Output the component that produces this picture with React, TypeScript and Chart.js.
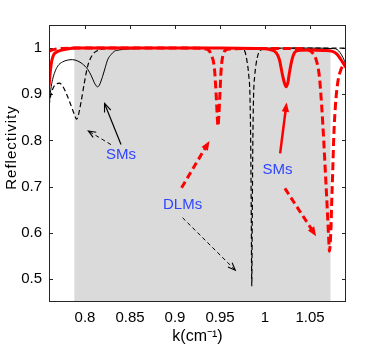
import { useEffect, useRef } from "react";
import { Chart, registerables } from "chart.js";

Chart.register(...registerables);

const FONT = "'Liberation Sans', Arial, Helvetica, sans-serif";

const X_RANGE = [0.76, 1.09];
const Y_RANGE = [0.45, 1.05];
const X_TICKS = [0.8, 0.85, 0.9, 0.95, 1, 1.05];
const Y_TICKS = [0.5, 0.6, 0.7, 0.8, 0.9, 1];

const BAND_X = [0.788, 1.073];
const BAND_TOP = 1.0;

// black solid
const BS_X = [0.76, 0.7605, 0.762, 0.764, 0.7665, 0.7697, 0.775, 0.7808, 0.786, 0.7919, 0.797, 0.803, 0.807, 0.8104, 0.8125, 0.814, 0.816, 0.8196, 0.8225, 0.8252, 0.829, 0.8326, 0.838, 0.8473, 0.86, 0.88, 0.95, 1.0, 1.05, 1.075, 1.08, 1.0835, 1.0865, 1.09];
const BS_Y = [0.855, 0.88, 0.91, 0.932, 0.948, 0.961, 0.97, 0.974, 0.975, 0.972, 0.966, 0.954, 0.94, 0.925, 0.918, 0.916, 0.92, 0.939, 0.958, 0.975, 0.986, 0.993, 0.996, 0.998, 0.999, 1.0, 1.0, 1.0, 1.0, 0.999, 0.997, 0.99, 0.98, 0.965];

// black dashed
const BD_X = [0.76, 0.762, 0.7645, 0.768, 0.7715, 0.775, 0.7789, 0.7825, 0.7863, 0.789, 0.7905, 0.792, 0.7955, 0.7993, 0.803, 0.8085, 0.8135, 0.8177, 0.825, 0.84, 0.9, 0.95, 0.97, 0.975, 0.9776, 0.9803, 0.982, 0.9833, 0.9842, 0.9848, 0.9853, 0.9858, 0.9864, 0.9873, 0.9886, 0.9903, 0.993, 0.997, 1.005, 1.05, 1.09];
const BD_Y = [0.875, 0.898, 0.913, 0.922, 0.924, 0.918, 0.903, 0.886, 0.866, 0.852, 0.846, 0.85, 0.882, 0.925, 0.961, 0.986, 0.994, 0.997, 0.999, 1.0, 1.0, 1.0, 0.999, 0.997, 0.993, 0.968, 0.94, 0.896, 0.78, 0.62, 0.485, 0.62, 0.78, 0.896, 0.94, 0.968, 0.99, 0.997, 0.999, 1.0, 1.0];

// red dashed
const RD_X = [0.76, 0.764, 0.768, 0.775, 0.79, 0.85, 0.92, 0.935, 0.9402, 0.9439, 0.9458, 0.947, 0.9478, 0.9486, 0.9498, 0.9513, 0.9531, 0.956, 0.962, 0.98, 1.02, 1.045, 1.05, 1.0535, 1.0568, 1.0604, 1.063, 1.0652, 1.0671, 1.069, 1.0708, 1.0716, 1.0734, 1.074, 1.0752, 1.0763, 1.0782, 1.0808, 1.0845, 1.0882, 1.09];
const RD_Y = [0.993, 0.996, 0.998, 0.999, 1.0, 1.0, 1.0, 0.998, 0.986, 0.954, 0.896, 0.85, 0.831, 0.85, 0.896, 0.954, 0.983, 0.995, 0.998, 0.999, 0.999, 0.998, 0.994, 0.988, 0.975, 0.939, 0.874, 0.802, 0.73, 0.658, 0.586, 0.56, 0.615, 0.658, 0.73, 0.802, 0.874, 0.925, 0.954, 0.965, 0.967];

// red solid
const RS_X = [0.76, 0.7615, 0.763, 0.765, 0.768, 0.773, 0.78, 0.79, 0.85, 0.95, 0.99, 1.005, 1.0124, 1.016, 1.019, 1.0215, 1.0235, 1.0255, 1.0271, 1.03, 1.0327, 1.037, 1.05, 1.065, 1.075, 1.08, 1.084, 1.087, 1.09];
const RS_Y = [0.917, 0.95, 0.972, 0.985, 0.991, 0.995, 0.998, 1.0, 1.0, 1.0, 0.999, 0.997, 0.99, 0.975, 0.946, 0.925, 0.916, 0.926, 0.946, 0.975, 0.99, 0.995, 0.996, 0.995, 0.993, 0.987, 0.976, 0.967, 0.958];

// annotations (data coordinates)
const LABEL_TEXT = ["SMs", "DLMs", "SMs"];
const LABEL_X = [0.84, 0.9084, 1.0139];
const LABEL_Y = [0.769, 0.66, 0.736];

const ARROW_KIND = ["blackSolid", "blackDashed", "redDashed", "blackDashed", "redSolid", "redDashed"];
const ARROW_X0 = [0.84, 0.8288, 0.9073, 0.9084, 1.0168, 1.0221];
const ARROW_Y0 = [0.791, 0.791, 0.6976, 0.6325, 0.772, 0.696];
const ARROW_X1 = [0.8217, 0.8037, 0.9383, 0.967, 1.024, 1.0568];
const ARROW_Y1 = [0.88, 0.8205, 0.7988, 0.519, 0.882, 0.5926];

const Y_TITLE = "Reflectivity";
const X_TITLE = "k(cm\u207B\u00B9)";

const pts = (xs: number[], ys: number[]) => xs.map((x, i) => ({ x, y: ys[i] }));
const fmt = (v: number) => String(+Number(v).toFixed(2));

const ARROW_STYLE: Record<string, { color: string; width: number; dash: number[]; filled: boolean; head: number }> = {
  blackSolid: { color: "#000", width: 1.2, dash: [], filled: false, head: 9 },
  blackDashed: { color: "#000", width: 1, dash: [4, 3], filled: false, head: 8 },
  redSolid: { color: "#ff0000", width: 2.5, dash: [], filled: true, head: 10 },
  redDashed: { color: "#ff0000", width: 3, dash: [7, 4], filled: true, head: 10 },
};

const overlay = {
  id: "overlay",
  beforeDatasetsDraw(chart: any) {
    const { ctx, chartArea: a, scales } = chart;
    ctx.save();
    ctx.strokeStyle = "#262626";
    ctx.lineWidth = 1;
    ctx.beginPath();
    for (const v of X_TICKS) {
      const px = Math.round(scales.x.getPixelForValue(v)) + 0.5;
      ctx.moveTo(px, a.bottom);
      ctx.lineTo(px, a.bottom - 4);
      ctx.moveTo(px, a.top);
      ctx.lineTo(px, a.top + 4);
    }
    for (const v of Y_TICKS) {
      const py = Math.round(scales.y.getPixelForValue(v)) + 0.5;
      ctx.moveTo(a.left, py);
      ctx.lineTo(a.left + 4, py);
      ctx.moveTo(a.right, py);
      ctx.lineTo(a.right - 4, py);
    }
    ctx.stroke();
    ctx.restore();
  },
  afterDatasetsDraw(chart: any) {
    const { ctx, chartArea: a, scales } = chart;
    const sx = scales.x, sy = scales.y;
    ctx.save();
    ctx.strokeStyle = "#262626";
    ctx.lineWidth = 1;
    ctx.strokeRect(a.left + 0.5, a.top + 0.5, a.right - a.left - 1, a.bottom - a.top - 1);

    ARROW_KIND.forEach((kind, i) => {
      const st = ARROW_STYLE[kind];
      const x0 = sx.getPixelForValue(ARROW_X0[i]);
      const y0 = sy.getPixelForValue(ARROW_Y0[i]);
      const x1 = sx.getPixelForValue(ARROW_X1[i]);
      const y1 = sy.getPixelForValue(ARROW_Y1[i]);
      const ang = Math.atan2(y1 - y0, x1 - x0);
      const L = st.head;
      const half = 0.38;
      const shaftEnd = st.filled ? L * 0.7 : 0;
      ctx.strokeStyle = st.color;
      ctx.fillStyle = st.color;
      ctx.lineWidth = st.width;
      ctx.setLineDash(st.dash);
      ctx.lineCap = "butt";
      ctx.beginPath();
      ctx.moveTo(x0, y0);
      ctx.lineTo(x1 - Math.cos(ang) * shaftEnd, y1 - Math.sin(ang) * shaftEnd);
      ctx.stroke();
      ctx.setLineDash([]);
      const hx1 = x1 - L * Math.cos(ang - half);
      const hy1 = y1 - L * Math.sin(ang - half);
      const hx2 = x1 - L * Math.cos(ang + half);
      const hy2 = y1 - L * Math.sin(ang + half);
      ctx.beginPath();
      if (st.filled) {
        ctx.moveTo(x1, y1);
        ctx.lineTo(hx1, hy1);
        ctx.lineTo(hx2, hy2);
        ctx.closePath();
        ctx.fill();
      } else {
        ctx.lineWidth = 1.1;
        ctx.moveTo(hx1, hy1);
        ctx.lineTo(x1, y1);
        ctx.lineTo(hx2, hy2);
        ctx.stroke();
      }
    });

    ctx.fillStyle = "#2f45ff";
    ctx.font = `15px ${FONT}`;
    ctx.textAlign = "center";
    ctx.textBaseline = "middle";
    LABEL_TEXT.forEach((t, i) => {
      ctx.fillText(t, sx.getPixelForValue(LABEL_X[i]), sy.getPixelForValue(LABEL_Y[i]));
    });
    ctx.restore();
  },
  afterDraw(chart: any) {
    const { ctx } = chart;
    ctx.save();
    ctx.translate(11.5, 147.5);
    ctx.rotate(-Math.PI / 2);
    ctx.fillStyle = "#000";
    ctx.font = `15px ${FONT}`;
    try {
      (ctx as any).letterSpacing = "1px";
    } catch (e) {}
    ctx.textAlign = "center";
    ctx.textBaseline = "middle";
    ctx.fillText(Y_TITLE, 0, 0);
    ctx.restore();
  },
};

export default function App() {
  const ref = useRef<HTMLCanvasElement | null>(null);
  useEffect(() => {
    if (!ref.current) return;
    const line = (xs: number[], ys: number[], color: string, width: number, dash: number[], order: number) => ({
      data: pts(xs, ys),
      borderColor: color,
      borderWidth: width,
      borderDash: dash,
      pointRadius: 0,
      fill: false,
      cubicInterpolationMode: "monotone" as const,
      clip: 0,
      order,
    });
    const chart = new Chart(ref.current, {
      type: "line",
      data: {
        datasets: [
          {
            data: [
              { x: BAND_X[0], y: BAND_TOP },
              { x: BAND_X[1], y: BAND_TOP },
            ],
            borderWidth: 0,
            borderColor: "rgba(0,0,0,0)",
            backgroundColor: "rgb(218,218,218)",
            pointRadius: 0,
            fill: "start",
            clip: 0,
            order: 10,
          } as any,
          line(BS_X, BS_Y, "#000000", 1, [], 4),
          line(BD_X, BD_Y, "#000000", 1.2, [5, 3], 3),
          line(RD_X, RD_Y, "#ff0000", 3, [8, 4], 2),
          line(RS_X, RS_Y, "#ff0000", 3, [], 1),
        ],
      },
      options: {
        responsive: false,
        animation: false,
        events: [],
        layout: { padding: { left: 0, top: 25, right: 36, bottom: 0 } },
        plugins: { legend: { display: false }, tooltip: { enabled: false } },
        scales: {
          x: {
            type: "linear",
            min: X_RANGE[0],
            max: X_RANGE[1],
            afterBuildTicks: (s: any) => {
              s.ticks = X_TICKS.map((v) => ({ value: v }));
            },
            afterFit: (s: any) => {
              s.height = 44;
            },
            grid: { display: false, drawTicks: false },
            border: { display: false },
            ticks: {
              padding: 7,
              color: "#000",
              font: { family: FONT, size: 15 },
              maxRotation: 0,
              autoSkip: false,
              callback: (v: any) => fmt(v),
            },
            title: {
              display: true,
              text: X_TITLE,
              color: "#000",
              font: { family: FONT, size: 16 },
              padding: { top: 0, bottom: 0 },
            },
          },
          y: {
            type: "linear",
            min: Y_RANGE[0],
            max: Y_RANGE[1],
            afterBuildTicks: (s: any) => {
              s.ticks = Y_TICKS.map((v) => ({ value: v }));
            },
            afterFit: (s: any) => {
              s.width = 49;
            },
            grid: { display: false, drawTicks: false },
            border: { display: false },
            ticks: {
              padding: 7,
              color: "#000",
              font: { family: FONT, size: 15 },
              autoSkip: false,
              callback: (v: any) => fmt(v),
            },
          },
        },
      },
      plugins: [overlay],
    });
    return () => chart.destroy();
  }, []);
  return (
    <div style={{ position: "absolute", left: 0, top: 0, width: 382, height: 346, background: "#fff" }}>
      <canvas ref={ref} width={382} height={346} style={{ width: 382, height: 346, display: "block" }} />
    </div>
  );
}
